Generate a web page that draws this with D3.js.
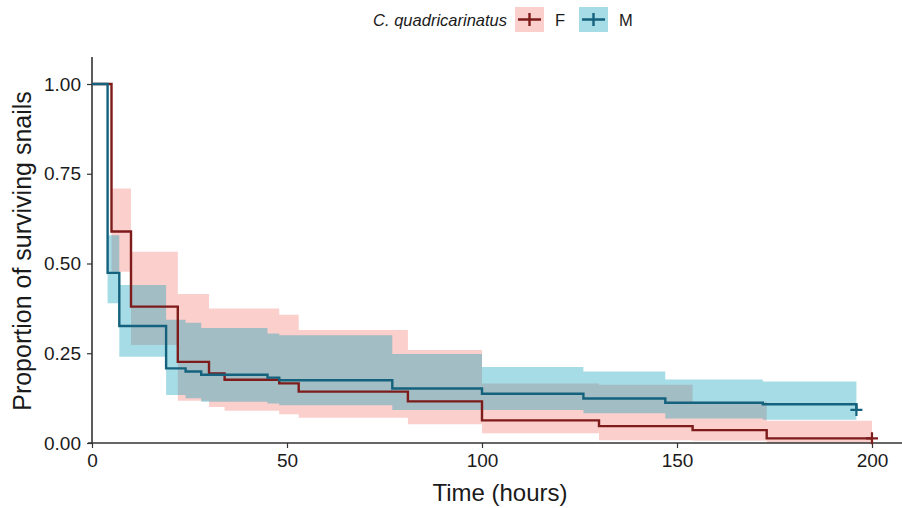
<!DOCTYPE html>
<html>
<head>
<meta charset="utf-8">
<script src="https://cdn.jsdelivr.net/npm/d3@7"></script>
<style>
  body { margin: 0; background: #fff; }
  text { font-family: "Liberation Sans", Arial, sans-serif; fill: #1a1a1a; }
</style>
</head>
<body>
<svg id="chart" width="902" height="508"></svg>
<script>
// Kaplan-Meier steps
var groups = ["F", "M"];
var timeF  = [0, 5, 10, 22, 30, 34, 48, 53, 81, 100, 130, 154, 173, 200];
var survF  = [1, 0.589, 0.38, 0.226, 0.194, 0.176, 0.166, 0.143, 0.116, 0.063, 0.047, 0.036, 0.013, 0.013];
var upperF = [1, 0.709, 0.533, 0.415, 0.375, 0.375, 0.357, 0.315, 0.259, 0.166, 0.162, 0.115, 0.062, 0.062];
var lowerF = [1, 0.477, 0.273, 0.118, 0.10, 0.09, 0.08, 0.07, 0.052, 0.027, 0.008, 0.006, 0, 0];

var timeM  = [0, 4, 7, 19, 24, 28, 45, 48, 77, 100, 126, 147, 172, 196];
var survM  = [1, 0.474, 0.326, 0.208, 0.199, 0.19, 0.182, 0.175, 0.152, 0.137, 0.124, 0.112, 0.108, 0.092];
var upperM = [1, 0.579, 0.44, 0.343, 0.335, 0.32, 0.305, 0.30, 0.248, 0.212, 0.199, 0.177, 0.171, 0.171];
var lowerM = [1, 0.389, 0.24, 0.134, 0.125, 0.115, 0.11, 0.105, 0.092, 0.092, 0.083, 0.068, 0.065, 0.065];

var censorF = [200];
var censorM = [196];

var xTicks = [0, 50, 100, 150, 200];
var yTicks = [0, 0.25, 0.5, 0.75, 1];

var lineCol = { F: "#7e1b1b", M: "#14627d" };
var bandCol = { F: "#fbcfcb", M: "rgba(0,155,184,0.35)" };

var svg = d3.select("#chart");

var x = d3.scaleLinear().domain([0, 200]).range([92, 872]);
var y = d3.scaleLinear().domain([0, 1]).range([443, 84]);

function rows(t, s, lo, hi) {
    return t.map(function(d, i) { return { t: d, s: s[i], lo: lo[i], hi: hi[i] }; });
}
var series = {
    F: rows(timeF, survF, lowerF, upperF),
    M: rows(timeM, survM, lowerM, upperM)
};

var area = d3.area().curve(d3.curveStepAfter)
    .x(function(d) { return x(d.t); })
    .y0(function(d) { return y(d.lo); })
    .y1(function(d) { return y(d.hi); });
var line = d3.line().curve(d3.curveStepAfter)
    .x(function(d) { return x(d.t); })
    .y(function(d) { return y(d.s); });

// bands
groups.forEach(function(g) {
    svg.append("path").datum(series[g])
        .attr("d", area)
        .attr("fill", bandCol[g]);
});

// axes
var xAxis = svg.append("g")
    .attr("transform", "translate(0,443)")
    .call(d3.axisBottom(x).tickValues(xTicks).tickSize(5).tickPadding(6));
xAxis.select(".domain").remove();
xAxis.selectAll("line").attr("stroke", "#333").attr("stroke-width", 1.2);
xAxis.selectAll("text").style("font-size", "19px").attr("fill", "#1a1a1a");
svg.append("line").attr("x1", 88).attr("x2", 902).attr("y1", 443).attr("y2", 443)
    .attr("stroke", "#333").attr("stroke-width", 1.6);

var yAxis = svg.append("g")
    .attr("transform", "translate(92,0)")
    .call(d3.axisLeft(y).tickValues(yTicks).tickFormat(d3.format(".2f")).tickSize(5).tickPadding(6));
yAxis.select(".domain").remove();
yAxis.selectAll("line").attr("stroke", "#333").attr("stroke-width", 1.2);
yAxis.selectAll("text").style("font-size", "19px").attr("fill", "#1a1a1a");
svg.append("line").attr("x1", 92).attr("x2", 92).attr("y1", 57).attr("y2", 444)
    .attr("stroke", "#333").attr("stroke-width", 1.6);

// survival lines
groups.forEach(function(g) {
    svg.append("path").datum(series[g])
        .attr("d", line)
        .attr("fill", "none")
        .attr("stroke", lineCol[g])
        .attr("stroke-width", 2.4);
});

// censor marks
function cross(t, s, col) {
    var cx = x(t), cy = y(s);
    svg.append("path")
        .attr("d", "M" + (cx - 6) + "," + cy + "H" + (cx + 6) + "M" + cx + "," + (cy - 6) + "V" + (cy + 6))
        .attr("stroke", col).attr("stroke-width", 2.2);
}
censorF.forEach(function(t) { cross(t, survF[survF.length - 1], lineCol.F); });
censorM.forEach(function(t) { cross(t, survM[survM.length - 1], lineCol.M); });

// axis titles
svg.append("text")
    .attr("x", 500).attr("y", 501)
    .attr("text-anchor", "middle")
    .style("font-size", "24px")
    .text("Time (hours)");
svg.append("text")
    .attr("transform", "translate(31,251) rotate(-90)")
    .attr("text-anchor", "middle")
    .style("font-size", "25px")
    .text("Proportion of surviving snails");

// legend
var lg = svg.append("g");
lg.append("text")
    .attr("x", 507).attr("y", 26)
    .attr("text-anchor", "end")
    .style("font-size", "16.5px")
    .style("font-style", "italic")
    .text("C. quadricarinatus");
var keyX = { F: 515, M: 579 };
groups.forEach(function(g) {
    var kx = keyX[g];
    lg.append("rect").attr("x", kx).attr("y", 7).attr("width", 29).attr("height", 25)
        .attr("fill", bandCol[g]);
    lg.append("path")
        .attr("d", "M" + (kx + 3) + ",19.5H" + (kx + 26) + "M" + (kx + 14.5) + ",13V26")
        .attr("stroke", lineCol[g]).attr("stroke-width", 2.4);
    lg.append("text")
        .attr("x", kx + 40).attr("y", 26)
        .style("font-size", "16.5px")
        .text(g);
});
</script>
</body>
</html>
